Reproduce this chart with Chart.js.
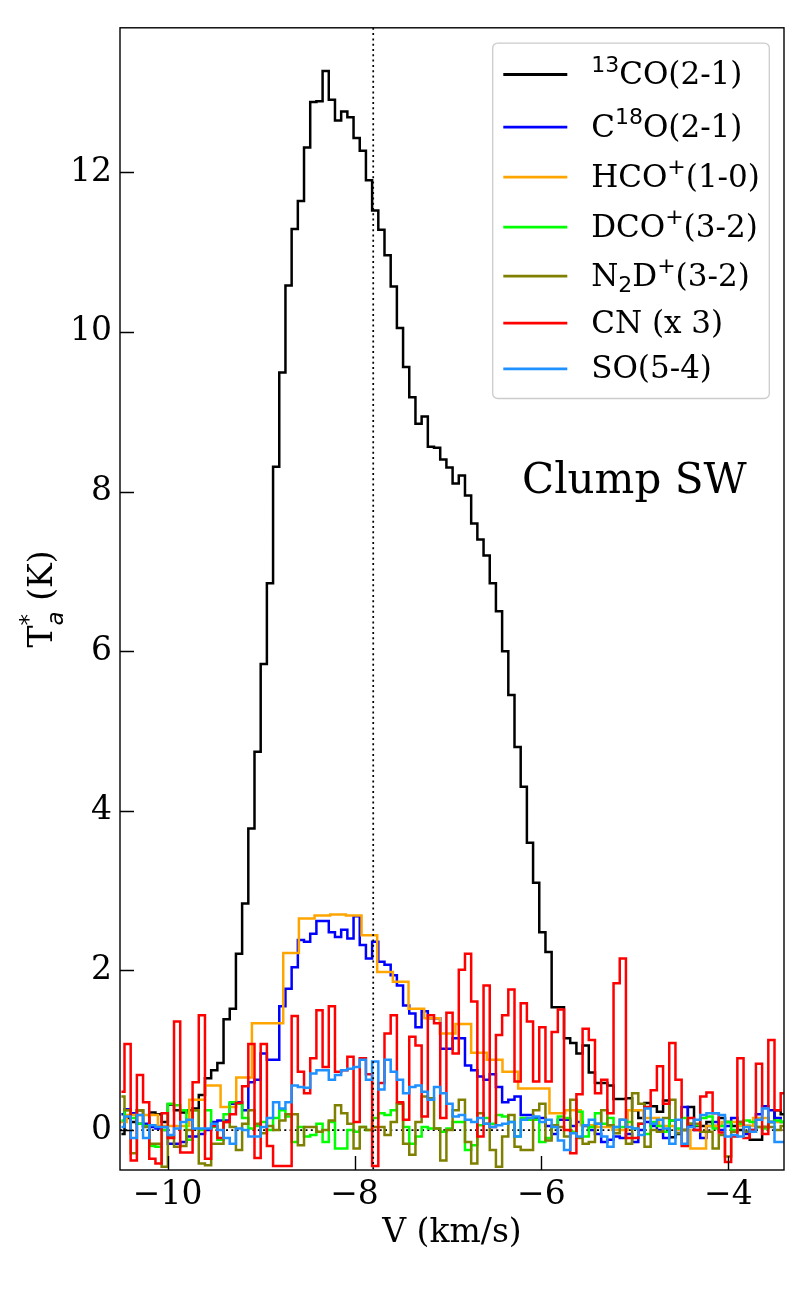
<!DOCTYPE html>
<html>
<head>
<meta charset="utf-8">
<script src="https://cdn.jsdelivr.net/npm/chart.js@4.4.0/dist/chart.umd.min.js"></script>
<style>
  html, body { margin: 0; padding: 0; background: #fff; }
  canvas { display: block; }
</style>
</head>
<body>
<canvas id="spec" width="800" height="1300"></canvas>
<script>
// velocity grids (km/s), channel centres
const velStart = -10.495;   // 1.3 mm lines
const velStep = 0.06625;
const hcoVelStart = -10.523; // HCO+ (3 mm, coarser channels)
const hcoVelStep = 0.1676;
const vSys = -7.8;

const xTicks = [-10, -8, -6, -4];
const yTicks = [0, 2, 4, 6, 8, 10, 12];

const lineNames = ['^{13}CO(2-1)', 'C^{18}O(2-1)', 'HCO^{+}(1-0)', 'DCO^{+}(3-2)',
                   'N_{2}D^{+}(3-2)', 'CN (x 3)', 'SO(5-4)'];
const lineColors = ['#000000', '#0000ff', '#ffa500', '#00ff00', '#808000', '#ff0000', '#1e90ff'];

// Ta* (K)
const co13 = [
  -0.05, 0.15, 0.10, 0.25, 0.05, 0.22, 0.20, 0.10, 0.32, 0.25,
  0.22, 0.25, 0.27, 0.44, 0.65, 0.75, 0.84, 1.39, 1.52, 2.21,
  2.84, 3.78, 4.74, 5.84, 6.85, 8.31, 9.49, 10.58, 11.29, 11.64,
  12.31, 12.88, 12.89, 13.27, 12.91, 12.65, 12.76, 12.69, 12.43, 12.27,
  11.90, 11.52, 11.28, 10.96, 10.57, 10.05, 9.56, 9.18, 8.85, 8.94,
  8.56, 8.55, 8.40, 8.30, 8.10, 8.20, 7.95, 7.60, 7.40, 7.20,
  6.85, 6.50, 6.00, 5.45, 4.80, 4.30, 3.60, 3.10, 2.48, 2.23,
  1.54, 1.54, 1.15, 1.09, 0.96, 1.06, 0.72, 0.59, 0.59, 0.56,
  0.39, 0.39, 0.40, 0.25, 0.15, 0.34, 0.30, 0.23, 0.37, -0.09,
  -0.05, 0.00, 0.29, 0.05, 0.05, 0.10, 0.05, 0.15, 0.10, 0.05,
  0.00, 0.05, -0.12, -0.12, 0.04, 0.10, 0.25, 0.20
];
const c18o = [
  0.20, 0.26, 0.21, 0.08, 0.08, 0.04, 0.02, 0.00, -0.17, -0.17,
  -0.15, -0.08, -0.08, -0.05, 0.00, 0.10, 0.12, 0.12, 0.33, 0.35,
  0.25, 0.60, 0.63, 0.96, 0.88, 0.88, 1.55, 1.77, 2.04, 2.38,
  2.36, 2.46, 2.62, 2.62, 2.48, 2.42, 2.51, 2.40, 2.68, 2.32,
  2.15, 2.36, 2.11, 2.07, 1.94, 1.81, 1.56, 1.46, 1.29, 1.49,
  1.40, 1.40, 1.02, 1.02, 1.15, 1.15, 0.81, 0.75, 0.67, 0.63,
  0.70, 0.54, 0.35, 0.38, 0.42, 0.19, 0.19, 0.15, 0.15, 0.05,
  -0.05, 0.13, 0.13, 0.05, 0.10, 0.05, 0.00, -0.05, -0.15, -0.12,
  -0.08, -0.10, -0.05, -0.15, 0.00, 0.10, 0.05, 0.00, -0.10, 0.12,
  0.00, 0.29, 0.05, 0.00, -0.10, 0.05, 0.10, 0.00, 0.05, 0.15,
  0.10, -0.05, 0.00, 0.20, 0.30, 0.25, 0.15, 0.10
];
const hcop = [
  0.10, 0.19, 0.19, 0.05, 0.05, 0.38, 0.56, 0.29, 0.66, 1.34,
  1.34, 2.22, 2.65, 2.69, 2.70, 2.69, 2.44, 1.98, 1.86, 1.52,
  1.40, 1.21, 1.33, 0.97, 0.88, 0.73, 0.52, 0.52, 0.21, 0.25,
  0.06, 0.04, 0.00, 0.25, 0.15, 0.05, 0.00, -0.23, 0.05, 0.10,
  0.05, 0.15, 0.10, 0.00
];
const dcop = [
  0.12, 0.25, 0.15, 0.08, 0.05, -0.20, -0.21, 0.00, 0.33, 0.31,
  0.25, -0.12, 0.25, 0.00, 0.25, 0.04, -0.12, 0.20, 0.35, 0.33,
  0.15, 0.02, 0.05, 0.10, 0.00, 0.15, 0.25, 0.17, -0.15, 0.04,
  -0.08, -0.06, 0.08, -0.15, 0.10, -0.23, -0.23, 0.00, -0.02, 0.04,
  0.00, 0.15, 0.21, 0.19, 0.25, 0.33, 0.04, -0.17, -0.08, 0.04,
  0.02, 0.02, -0.02, 0.02, 0.10, 0.10, -0.25, -0.19, 0.06, 0.15,
  0.08, 0.19, 0.17, 0.10, -0.08, 0.15, 0.13, 0.13, -0.15, -0.10,
  0.04, 0.17, 0.15, -0.02, 0.23, -0.08, 0.04, 0.21, 0.08, 0.15,
  0.04, 0.04, 0.10, 0.02, 0.08, -0.05, 0.10, 0.05, -0.02, 0.12,
  0.02, 0.15, 0.08, 0.06, 0.15, 0.17, 0.02, 0.05, 0.10, 0.00,
  0.08, 0.12, 0.10, 0.04, 0.02, 0.10, 0.12, 0.10
];
const n2dp = [
  0.42, 0.25, -0.29, 0.25, 0.04, -0.17, -0.17, -0.46, -0.08, -0.21,
  -0.20, 0.00, 0.25, -0.42, -0.44, -0.17, -0.17, 0.10, 0.04, -0.25,
  0.08, 0.25, 0.08, -0.04, 0.05, 0.00, 0.12, 0.20, 0.20, -0.19,
  0.04, 0.04, -0.02, 0.00, 0.12, 0.31, 0.21, 0.08, -0.23, 0.04,
  0.00, 0.04, 0.04, -0.06, 0.10, 0.33, -0.17, -0.31, 0.10, 0.42,
  0.40, 0.02, -0.38, 0.00, 0.25, 0.38, -0.15, -0.42, 0.21, 0.08,
  -0.25, -0.46, -0.08, 0.19, -0.21, -0.25, -0.25, 0.25, 0.33, -0.13,
  0.06, 0.04, -0.08, 0.38, -0.10, -0.17, -0.15, 0.08, 0.25, 0.06,
  -0.04, 0.13, -0.17, 0.46, 0.33, -0.21, 0.00, -0.02, 0.15, 0.38,
  -0.04, 0.00, 0.08, 0.08, -0.02, -0.02, -0.23, -0.06, -0.33, -0.02,
  0.10, -0.02, -0.02, 0.04, 0.04, 0.04, 0.00, 0.05
];
// CN already multiplied by 3
const cnx3 = [
  0.48, 1.08, -0.38, 0.69, 0.35, -0.36, -0.42, 0.21, -0.10, 1.36,
  -0.28, -0.28, 0.60, 1.44, -0.36, 0.05, -0.10, 0.10, 0.20, 0.34,
  0.55, 1.08, -0.35, 1.08, -0.20, -0.45, -0.45, -0.45, 1.43, 0.73,
  0.46, 0.90, 1.50, 0.79, 1.55, 0.73, 0.75, 0.92, 0.10, 0.90,
  0.70, -0.45, 0.59, 1.21, 1.44, 0.35, 0.13, 1.17, 1.06, 0.17,
  1.44, 1.34, 0.15, 1.47, 0.96, 2.01, 2.21, 1.61, -0.08, 1.81,
  0.04, 1.19, 1.44, 1.76, 0.61, 1.59, 1.36, 0.61, 1.29, 0.61,
  1.23, 1.51, 0.00, -0.29, 0.45, 1.27, 1.13, 0.46, 0.63, 0.21,
  1.84, 2.15, -0.10, -0.10, 0.08, 0.29, 0.50, 0.80, 0.33, 1.09,
  0.63, -0.20, 0.15, 0.00, 0.42, 0.47, 0.21, -0.03, -0.40, -0.08,
  0.90, -0.10, 0.00, 0.83, -0.05, 1.13, 0.25, 0.46
];
const so54 = [
  0.04, 0.17, -0.10, 0.19, -0.10, 0.06, 0.04, 0.04, -0.06, 0.02,
  0.10, 0.13, 0.02, 0.02, 0.02, 0.08, 0.00, -0.10, -0.17, 0.02,
  0.00, -0.08, -0.08, 0.04, 0.15, 0.35, 0.27, 0.35, 0.56, 0.54,
  0.53, 0.71, 0.75, 0.75, 0.63, 0.69, 0.75, 0.77, 0.79, 0.88,
  0.63, 0.86, 0.51, 0.88, 0.73, 0.63, 0.46, 0.54, 0.56, 0.48,
  0.38, 0.54, 0.46, 0.33, 0.17, 0.19, 0.13, 0.10, 0.15, 0.08,
  0.04, 0.06, 0.08, 0.10, -0.08, 0.13, 0.15, 0.17, 0.10, 0.13,
  0.04, -0.13, -0.25, -0.04, -0.08, 0.06, 0.13, 0.08, -0.08, -0.21,
  0.04, 0.13, 0.04, 0.02, -0.06, 0.27, 0.08, 0.13, 0.02, -0.17,
  0.13, -0.17, 0.04, 0.13, 0.19, 0.21, 0.21, 0.19, -0.08, -0.06,
  -0.08, 0.04, -0.02, 0.13, 0.27, 0.10, -0.15, -0.15
];

const FONT = 'DejaVu Serif';
const MATH = 'DejaVu Sans';

function spectrum(vals, v0, dv) {
  return vals.map((t, i) => ({ x: v0 + i * dv, y: t }));
}

const allSpectra = [
  spectrum(co13, velStart, velStep),
  spectrum(c18o, velStart, velStep),
  spectrum(hcop, hcoVelStart, hcoVelStep),
  spectrum(dcop, velStart, velStep),
  spectrum(n2dp, velStart, velStep),
  spectrum(cnx3, velStart, velStep),
  spectrum(so54, velStart, velStep)
];

const datasets = allSpectra.map((d, i) => ({
  label: lineNames[i].replace(/[\^_]\{([^}]*)\}/g, '$1'),
  data: d,
  borderColor: lineColors[i],
  borderWidth: 2.5,
  stepped: 'middle',
  pointRadius: 0,
  fill: false,
  order: lineNames.length - i   // later lines on top, like matplotlib
}));

// small rich-text helper: ^{..} superscript, _{..} subscript
function parseRich(str) {
  const out = [];
  const re = /\^\{([^}]*)\}|_\{([^}]*)\}|([^^_]+)/g;
  let m;
  while ((m = re.exec(str))) {
    if (m[1] !== undefined) out.push({ t: m[1], kind: 'sup' });
    else if (m[2] !== undefined) out.push({ t: m[2], kind: 'sub' });
    else out.push({ t: m[3], kind: 'n' });
  }
  return out;
}

function layoutRich(ctx, str, size, o) {
  const items = [];
  let x = 0, supStart = null, supW = 0;
  for (const p of parseRich(str)) {
    let font, dy = 0;
    if (p.kind === 'n') {
      font = size + 'px "' + FONT + '"';
    } else {
      const small = Math.round(size * 0.7);
      font = (p.kind === 'sub' && o.subItalic ? 'italic ' : '') + small + 'px "' + MATH + '"';
      dy = p.kind === 'sup' ? -size * o.supRaise : size * o.subDrop;
    }
    ctx.font = font;
    const w = ctx.measureText(p.t).width;
    if (p.kind === 'sub' && supStart !== null) {
      // stack under the preceding superscript
      items.push({ t: p.t, font, x: supStart, dy });
      x = supStart + Math.max(supW, w);
      supStart = null;
      continue;
    }
    items.push({ t: p.t, font, x, dy });
    if (p.kind === 'sup') { supStart = x; supW = w; } else { supStart = null; }
    x += w;
  }
  return { items, width: x };
}

function drawRich(ctx, lay, x, y) {
  for (const it of lay.items) {
    ctx.font = it.font;
    ctx.fillText(it.t, x + it.x, y + it.dy);
  }
}

const fmtTick = v => (v < 0 ? '\u2212' + Math.abs(v) : String(v));

const decorations = {
  id: 'decorations',
  beforeDatasetsDraw(chart) {
    const { ctx, chartArea: a, scales: { y } } = chart;
    ctx.save();
    ctx.strokeStyle = '#000';
    ctx.lineWidth = 1.7;
    ctx.setLineDash([2, 3.3]);
    const py = y.getPixelForValue(0);
    ctx.beginPath();
    ctx.moveTo(a.left, py);
    ctx.lineTo(a.right, py);
    ctx.stroke();
    ctx.restore();
  },
  afterDatasetsDraw(chart) {
    const { ctx, chartArea: a, scales: { x, y } } = chart;
    ctx.save();

    // systemic velocity marker
    ctx.strokeStyle = '#000';
    ctx.lineWidth = 1.7;
    ctx.setLineDash([2, 3.3]);
    const vx = x.getPixelForValue(vSys);
    ctx.beginPath();
    ctx.moveTo(vx, a.top);
    ctx.lineTo(vx, a.bottom);
    ctx.stroke();
    ctx.setLineDash([]);

    // frame + inward ticks
    ctx.lineWidth = 1.4;
    ctx.strokeRect(a.left, a.top, a.right - a.left, a.bottom - a.top);
    ctx.beginPath();
    for (const v of xTicks) {
      const px = Math.round(x.getPixelForValue(v)) + 0.5;
      ctx.moveTo(px, a.bottom);
      ctx.lineTo(px, a.bottom - 14);
    }
    for (const v of yTicks) {
      const py = Math.round(y.getPixelForValue(v)) + 0.5;
      ctx.moveTo(a.left, py);
      ctx.lineTo(a.left + 14, py);
    }
    ctx.stroke();

    // legend
    const bx = a.right - 291.3, by = a.top + 15.3, bw = 276.6, bh = 355.4;
    ctx.fillStyle = 'rgba(255,255,255,0.8)';
    ctx.strokeStyle = '#cccccc';
    ctx.lineWidth = 1.3;
    ctx.beginPath();
    ctx.roundRect(bx, by, bw, bh, 5);
    ctx.fill();
    ctx.stroke();
    const rowY = [31.4, 84.0, 134.0, 184.0, 233.0, 280.0, 325.7];
    ctx.textBaseline = 'alphabetic';
    ctx.textAlign = 'left';
    lineNames.forEach((name, i) => {
      const ry = by + rowY[i];
      ctx.strokeStyle = lineColors[i];
      ctx.lineWidth = 2.8;
      ctx.beginPath();
      ctx.moveTo(bx + 10.6, ry);
      ctx.lineTo(bx + 74.6, ry);
      ctx.stroke();
      ctx.fillStyle = '#000';
      const lay = layoutRich(ctx, name, 31, { supRaise: 0.4, subDrop: 0.2 });
      drawRich(ctx, lay, bx + 98.5, ry + 9.5);
    });

    // panel label
    ctx.fillStyle = '#000';
    ctx.font = '42px "' + FONT + '"';
    ctx.fillText('Clump SW', a.left + 402, a.top + 465);

    // axis titles
    ctx.font = '33px "' + FONT + '"';
    ctx.textAlign = 'center';
    ctx.fillText('V (km/s)', (a.left + a.right) / 2, 1242);

    ctx.textAlign = 'left';
    const ylay = layoutRich(ctx, 'T^{*}_{a} (K)', 33, { supRaise: 0.47, subDrop: 0.32, subItalic: true });
    ctx.translate(52, (a.top + a.bottom) / 2);
    ctx.rotate(-Math.PI / 2);
    drawRich(ctx, ylay, -ylay.width / 2, 0);

    ctx.restore();
  }
};

new Chart(document.getElementById('spec'), {
  type: 'line',
  data: { datasets },
  options: {
    responsive: false,
    animation: false,
    layout: { padding: { top: 26, right: 16, left: 0, bottom: 0 } },
    plugins: { legend: { display: false }, tooltip: { enabled: false } },
    scales: {
      x: {
        type: 'linear',
        min: -10.51,
        max: -3.404,
        afterFit(s) { s.height = 130; },
        afterBuildTicks(s) { s.ticks = xTicks.map(v => ({ value: v })); },
        grid: { display: false, drawTicks: false },
        border: { display: false },
        ticks: {
          font: { family: FONT, size: 33 },
          color: '#000',
          padding: 6,
          maxRotation: 0,
          autoSkip: false,
          callback: fmtTick
        }
      },
      y: {
        type: 'linear',
        min: -0.5,
        max: 13.81,
        afterFit(s) { s.width = 120; },
        afterBuildTicks(s) { s.ticks = yTicks.map(v => ({ value: v })); },
        grid: { display: false, drawTicks: false },
        border: { display: false },
        ticks: {
          font: { family: FONT, size: 33 },
          color: '#000',
          padding: 8,
          autoSkip: false,
          callback: fmtTick
        }
      }
    }
  },
  plugins: [decorations]
});
</script>
</body>
</html>
